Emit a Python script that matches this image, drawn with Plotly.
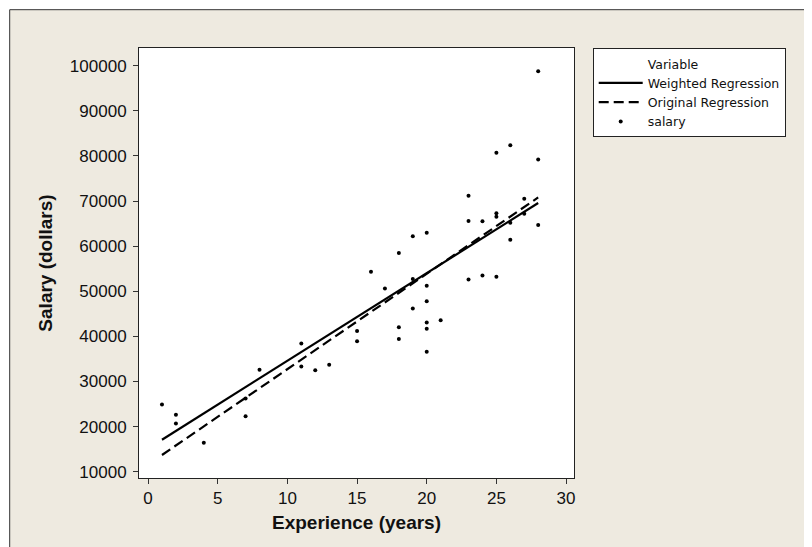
import plotly.graph_objects as go

# ---- data ----
experience = [1, 2, 2, 4, 7, 7, 8, 11, 11, 12, 13, 15, 15, 16, 17, 18, 18, 18,
              19, 19, 19, 20, 20, 20, 20, 20, 20, 21, 23, 23, 23, 24, 24,
              25, 25, 25, 25, 26, 26, 26, 27, 27, 28, 28, 28]
salary = [24900, 22600, 20700, 16400, 22300, 26200, 32600, 38400, 33300, 32500,
          33700, 41200, 38900, 54300, 50600, 58500, 42000, 39400,
          62200, 52700, 46200, 63000, 51200, 47800, 43100, 41700, 36600, 43600,
          71200, 65600, 52600, 65500, 53500,
          80700, 67300, 66500, 53200, 82400, 65200, 61400, 70500, 67200,
          98800, 79200, 64700]

fit_x = [1, 28]
weighted_fit = [17090, 69570]
original_fit = [13700, 70800]

x_ticks = [0, 5, 10, 15, 20, 25, 30]
y_ticks = [10000, 20000, 30000, 40000, 50000, 60000, 70000, 80000, 90000, 100000]
y_tick_labels = [str(v) for v in y_ticks]

BG = "#EEEAE0"
FONT = "Liberation Sans, Arial, sans-serif"
LEGFONT = "DejaVu Sans, Verdana, sans-serif"

# figure sits inside the page's 8px body margin
W, H = 804, 539
L, T = 131.3, 40.3
PW, PH = 435, 430
R = W - L - PW
B = H - T - PH

fig = go.Figure()
fig.add_trace(go.Scatter(x=[None], y=[None], mode="lines", name="Variable",
                         line=dict(width=0, color="rgba(0,0,0,0)"),
                         hoverinfo="skip"))
fig.add_trace(go.Scatter(x=fit_x, y=weighted_fit, mode="lines",
                         name="Weighted Regression",
                         line=dict(color="black", width=2.2)))
fig.add_trace(go.Scatter(x=fit_x, y=original_fit, mode="lines",
                         name="Original Regression",
                         line=dict(color="black", width=2.2, dash="10px,5px")))
fig.add_trace(go.Scatter(x=experience, y=salary, mode="markers", name="salary",
                         marker=dict(color="black", size=4)))

axis_common = dict(showline=True, linecolor="#222", linewidth=1, mirror=True,
                   ticks="outside", ticklen=5, tickcolor="#333", showgrid=False,
                   zeroline=False, tickfont=dict(family=FONT, size=17, color="#111"))

fig.update_xaxes(range=[-0.65, 30.57], tickvals=x_ticks,
                 title=dict(text="<b>Experience (years)</b>", standoff=8,
                            font=dict(family=FONT, size=19, color="#111")),
                 **axis_common)
fig.update_yaxes(range=[8600, 103935], tickvals=y_ticks, ticktext=y_tick_labels,
                 ticklabelstandoff=3,
                 title=dict(text="<b>Salary (dollars)</b>", standoff=12,
                            font=dict(family=FONT, size=19, color="#111")),
                 **axis_common)

frame_x0 = (2 - L) / PW
frame_y1 = (T + PH - 2) / PH

fig.update_layout(
    width=W, height=H,
    margin=dict(l=L, r=R, t=T, b=B, autoexpand=False),
    paper_bgcolor="white", plot_bgcolor="white",
    font=dict(family=FONT, color="#111"),
    showlegend=True,
    legend=dict(x=1.043, y=1.0, xanchor="left", yanchor="top",
                bgcolor="white", bordercolor="#222", borderwidth=1,
                font=dict(family=LEGFONT, size=12.5, color="#111"),
                tracegroupgap=0, itemwidth=44),
    shapes=[
        dict(type="rect", xref="paper", yref="paper",
             x0=frame_x0, x1=3, y0=-2, y1=frame_y1,
             line=dict(color="#333", width=1), fillcolor=BG, layer="below"),
        dict(type="rect", xref="x domain", yref="y domain",
             x0=0, x1=1, y0=0, y1=1,
             line=dict(width=0), fillcolor="white", layer="below"),
    ],
)

fig.write_html("out.html")
